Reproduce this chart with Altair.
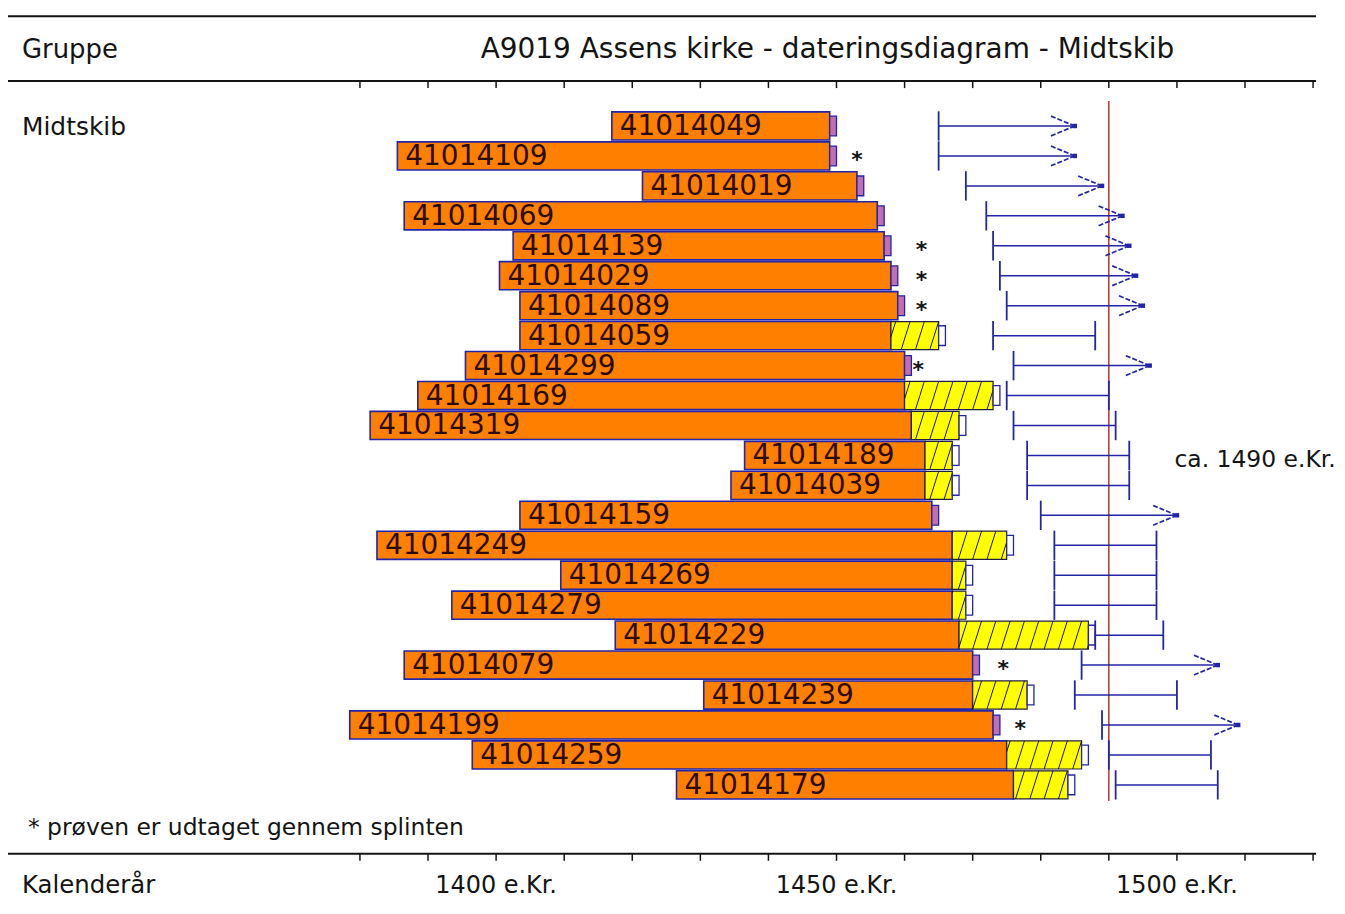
import altair as alt
import pandas as pd
import math

# ---------------- data ----------------
names = ["41014049", "41014109", "41014019", "41014069", "41014139", "41014029",
         "41014089", "41014059", "41014299", "41014169", "41014319", "41014189",
         "41014039", "41014159", "41014249", "41014269", "41014279", "41014229",
         "41014079", "41014239", "41014199", "41014259", "41014179"]
first_ring = [1417, 1385.5, 1421.5, 1386.5, 1402.5, 1400.5, 1403.5, 1403.5, 1395.5, 1388.5,
              1381.5, 1436.5, 1434.5, 1403.5, 1382.5, 1409.5, 1393.5, 1417.5, 1386.5, 1430.5,
              1378.5, 1396.5, 1426.5]
heartwood_end = [1449, 1449, 1453, 1456, 1457, 1458, 1459, 1458, 1460, 1460, 1461, 1463,
                 1463, 1464, 1467, 1467, 1467, 1468, 1470, 1470, 1473, 1475, 1476]
sapwood_end = [None, None, None, None, None, None, None, 1465, None, 1473, 1468, 1467,
               1467, None, 1475, 1469, 1469, 1487, None, 1478, None, 1486, 1484]
felling_from = [1465, 1465, 1469, 1472, 1473, 1474, 1475, 1473, 1476, 1475, 1476, 1478,
                1478, 1480, 1482, 1482, 1482, 1488, 1486, 1485, 1489, 1490, 1491]
felling_to = [1485, 1485, 1489, 1492, 1493, 1494, 1495, 1488, 1496, 1490, 1491, 1493,
              1493, 1500, 1497, 1497, 1497, 1498, 1506, 1500, 1509, 1505, 1506]
open_ended = [True, True, True, True, True, True, True, False, True, False, False, False,
              False, True, False, False, False, False, True, False, True, False, False]
star_year = [None, 1453, None, None, 1462.5, 1462.5, 1462.5, None, 1462, None, None, None,
             None, None, None, None, None, None, 1474.5, None, 1477, None, None]
tick_years = list(range(1380, 1521, 10))
label_years = [1400, 1450, 1500]
dating_year = 1490

title_text = "A9019 Assens kirke - dateringsdiagram - Midtskib"
group_header = "Gruppe"
group_name = "Midtskib"
footnote = "* prøven er udtaget gennem splinten"
axis_title = "Kalenderår"

# ---------------- derived tables ----------------
n = len(names)
rows = pd.DataFrame({
    "name": names, "start": first_ring, "heart": heartwood_end,
    "sap": sapwood_end, "ffrom": felling_from, "fto": felling_to,
    "open": open_ended, "star": star_year,
})
rows["row"] = list(range(n))
rows["y0"] = rows["row"] - 0.47
rows["y1"] = rows["row"] + 0.47
rows["has_sap"] = rows["sap"].notna()
rows["last"] = rows["sap"].where(rows["has_sap"], rows["heart"])
rows["box_end"] = rows["last"] + 1
rows["by0"] = rows["row"] - 0.33
rows["by1"] = rows["row"] + 0.33
rows["ty0"] = rows["row"] - 0.49
rows["ty1"] = rows["row"] + 0.49

sap_rows = rows[rows["has_sap"]].copy()
stars = rows[rows["star"].notna()].copy()
closed = rows[~rows["open"]].copy()
arrows = rows[rows["open"]].copy()

# hatching of the sapwood boxes
spacing, slant = 2.1, 1.3
hatch = []
for _, r in sap_rows.iterrows():
    a, b = r["heart"], r["sap"]
    k0 = math.floor((a - slant) / spacing) - 1
    k1 = math.ceil(b / spacing) + 1
    for k in range(k0, k1 + 1):
        x0 = k * spacing
        t0 = max(0.0, (a - x0) / slant)
        t1 = min(1.0, (b - x0) / slant)
        if t1 > t0 + 1e-6:
            hatch.append({
                "xa": x0 + slant * t0, "xb": x0 + slant * t1,
                "ya": r["y1"] - (r["y1"] - r["y0"]) * t0,
                "yb": r["y1"] - (r["y1"] - r["y0"]) * t1,
            })
hatch = pd.DataFrame(hatch)

barbs = []
for _, r in arrows.iterrows():
    for s in (-1, 1):
        barbs.append({"xa": r["fto"] - 3.5, "ya": r["row"] + s * 0.33,
                      "xb": r["fto"], "yb": r["row"]})
barbs = pd.DataFrame(barbs)

ticks_df = pd.DataFrame({"year": tick_years})
labels_df = pd.DataFrame({"year": label_years})
labels_df["text"] = labels_df["year"].astype(str) + " e.Kr."
red_df = pd.DataFrame({"year": [dating_year]})
dummy = pd.DataFrame({"k": [0]})

# ---------------- styling ----------------
W, H = 956, 775
PAD_L, PAD_T, PAD_R, PAD_B = 353, 72, 24, 44
FONT = "DejaVu Sans"
BLUE = "#2424a8"
INK = "#141414"
xs = alt.Scale(domain=[tick_years[0], tick_years[-1]], nice=False, zero=False)
ys = alt.Scale(domain=[-1.498, 24.301], nice=False, zero=False, reverse=True)


def X(field):
    return alt.X(field, type="quantitative", scale=xs, axis=None)


def Y(field):
    return alt.Y(field, type="quantitative", scale=ys, axis=None)


def hline(ypix, width=2.0):
    return alt.Chart(dummy).mark_rule(color=INK, strokeWidth=width).encode(
        x=alt.value(-PAD_L), x2=alt.value(W + 3), y=alt.value(ypix))


def label(text, xpix, ypix, size, align="left"):
    return alt.Chart(dummy).mark_text(
        text=text, align=align, baseline="middle", font=FONT, fontSize=size,
        color=INK).encode(x=alt.value(xpix), y=alt.value(ypix))


layers = []

# frame lines
layers.append(hline(-65, 2.0))
layers.append(hline(0, 2.0))
layers.append(hline(H, 2.0))

# ticks on the header line and on the calendar line
layers.append(alt.Chart(ticks_df).mark_rule(color=INK, strokeWidth=1.5).encode(
    x=X("year"), y=alt.value(0), y2=alt.value(7)))
layers.append(alt.Chart(ticks_df).mark_rule(color=INK, strokeWidth=1.5).encode(
    x=X("year"), y=alt.value(H), y2=alt.value(H + 7)))
layers.append(alt.Chart(labels_df).mark_text(
    align="center", baseline="middle", font=FONT, fontSize=24, color=INK).encode(
    x=X("year"), y=alt.value(H + 32), text="text:N"))

# dating line
layers.append(alt.Chart(red_df).mark_rule(color="#c43030", strokeWidth=1.5).encode(
    x=X("year"), y=alt.value(20), y2=alt.value(722)))

# orange heartwood bars
layers.append(alt.Chart(rows).mark_rect(fill="#ff8000", stroke=BLUE, strokeWidth=1.6).encode(
    x=X("start"), x2="heart:Q", y=Y("y0"), y2="y1:Q"))

# sapwood
layers.append(alt.Chart(sap_rows).mark_rect(fill="#ffff00", stroke="#202040", strokeWidth=1.2).encode(
    x=X("heart"), x2="sap:Q", y=Y("y0"), y2="y1:Q"))
layers.append(alt.Chart(hatch).mark_rule(color=INK, strokeWidth=1).encode(
    x=X("xa"), x2="xb:Q", y=Y("ya"), y2="yb:Q"))

# last ring boxes
layers.append(alt.Chart(rows).mark_rect(stroke=BLUE, strokeWidth=1.3).encode(
    x=X("last"), x2="box_end:Q", y=Y("by0"), y2="by1:Q",
    fill=alt.condition("datum.has_sap", alt.value("#ffffff"), alt.value("#c070b0"))))

# sample labels
layers.append(alt.Chart(rows).mark_text(
    align="left", baseline="middle", dx=8, dy=1, font=FONT, fontSize=28,
    color="#2a0c00").encode(x=X("start"), y=Y("row"), text="name:N"))

# sapwood-sampled stars
layers.append(alt.Chart(stars).mark_text(
    text="*", align="center", baseline="middle", dy=4, font=FONT, fontSize=22,
    fontWeight="bold", color=INK).encode(x=X("star"), y=Y("row")))

# felling intervals
layers.append(alt.Chart(rows).mark_rule(color=BLUE, strokeWidth=1.5).encode(
    x=X("ffrom"), x2="fto:Q", y=Y("row")))
layers.append(alt.Chart(rows).mark_rule(color=BLUE, strokeWidth=1.8).encode(
    x=X("ffrom"), y=Y("ty0"), y2="ty1:Q"))
layers.append(alt.Chart(closed).mark_rule(color=BLUE, strokeWidth=1.8).encode(
    x=X("fto"), y=Y("ty0"), y2="ty1:Q"))
layers.append(alt.Chart(barbs).mark_rule(color=BLUE, strokeWidth=1.7, strokeDash=[5, 2]).encode(
    x=X("xa"), x2="xb:Q", y=Y("ya"), y2="yb:Q"))
layers.append(alt.Chart(arrows).mark_square(color=BLUE, size=20, opacity=1).encode(
    x=X("fto"), y=Y("row")))

# texts
layers.append(label(group_header, -339, -31, 26))
layers.append(label(title_text, 469, -31, 28, align="center"))
layers.append(label(group_name, -339, 46, 25))
layers.append(label(footnote, -333, 749, 23.5))
layers.append(label(axis_title, -339, H + 32, 24.5))
layers.append(label(f"ca. {dating_year} e.Kr.", 817, 380, 23.5))

chart = alt.layer(*layers).properties(
    width=W, height=H,
    autosize=alt.AutoSizeParams(type="none"),
    padding={"left": PAD_L, "top": PAD_T, "right": PAD_R, "bottom": PAD_B},
    background="white",
).configure_view(stroke=None)

chart.save("out.html", embed_options={"renderer": "svg", "actions": False})
